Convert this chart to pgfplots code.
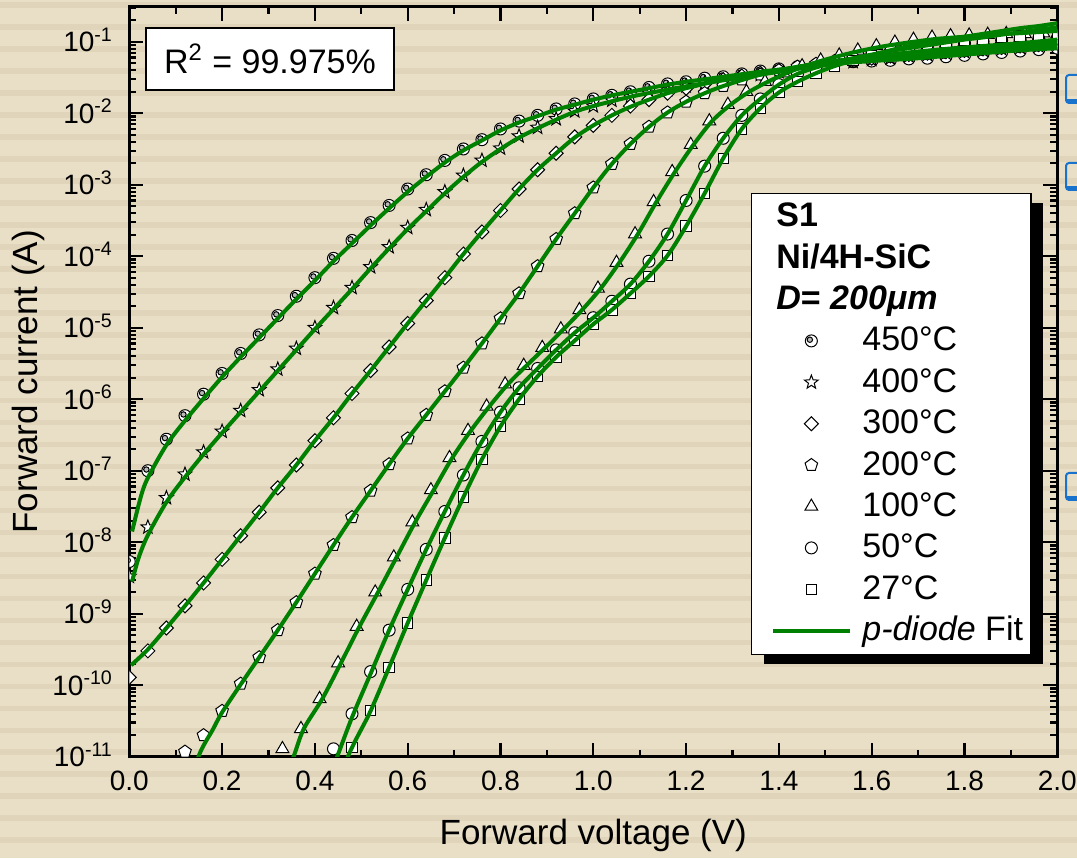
\documentclass[border=0pt]{standalone}
\usepackage{fontspec}
\setmainfont{Liberation Sans}
\usepackage{pgfplots}
\pgfplotsset{compat=1.18}
\usepackage{pgfplotstable}
\usetikzlibrary{plotmarks}
\definecolor{bgbase}{RGB}{233,223,199}
\definecolor{bgstripe}{RGB}{224,213,186}
\definecolor{fitgreen}{RGB}{0,128,0}
\definecolor{iconblue}{RGB}{25,115,205}

\pgfdeclareplotmark{dotcircle}{%
  \pgfpathcircle{\pgfpointorigin}{\pgfplotmarksize}\pgfusepathqfillstroke
  \begin{pgfscope}\pgfsetfillcolor{gray!55}%
  \pgfpathcircle{\pgfqpoint{-0.25\pgfplotmarksize}{0.2\pgfplotmarksize}}{0.45\pgfplotmarksize}\pgfusepathqfillstroke
  \end{pgfscope}}
\pgfdeclareplotmark{ostar}{%
  \pgfpathmoveto{\pgfpointpolar{90}{\pgfplotmarksize}}%
  \pgfpathlineto{\pgfpointpolar{126}{0.42*\pgfplotmarksize}}%
  \pgfpathlineto{\pgfpointpolar{162}{\pgfplotmarksize}}%
  \pgfpathlineto{\pgfpointpolar{198}{0.42*\pgfplotmarksize}}%
  \pgfpathlineto{\pgfpointpolar{234}{\pgfplotmarksize}}%
  \pgfpathlineto{\pgfpointpolar{270}{0.42*\pgfplotmarksize}}%
  \pgfpathlineto{\pgfpointpolar{306}{\pgfplotmarksize}}%
  \pgfpathlineto{\pgfpointpolar{342}{0.42*\pgfplotmarksize}}%
  \pgfpathlineto{\pgfpointpolar{18}{\pgfplotmarksize}}%
  \pgfpathlineto{\pgfpointpolar{54}{0.42*\pgfplotmarksize}}%
  \pgfpathclose\pgfusepathqfillstroke}
\pgfdeclareplotmark{odiamond}{%
  \pgfpathmoveto{\pgfqpoint{0pt}{\pgfplotmarksize}}%
  \pgfpathlineto{\pgfqpoint{\pgfplotmarksize}{0pt}}%
  \pgfpathlineto{\pgfqpoint{0pt}{-\pgfplotmarksize}}%
  \pgfpathlineto{\pgfqpoint{-\pgfplotmarksize}{0pt}}%
  \pgfpathclose\pgfusepathqfillstroke}

\pgfplotsset{
  markleg/.style={legend image code/.code={\path (0pt,0pt) (44.35pt,0pt); \draw[##1] plot coordinates {(24.85pt,0pt)};}},
  lineleg/.style={legend image code/.code={\path (0pt,0pt) (44.35pt,0pt); \draw[##1] (5.85pt,0pt) -- (44.35pt,0pt);}},
  mk/.style={only marks, markleg, mark options={solid, fill=white, draw=black, line width=0.5pt}},
  fit/.style={no markers, smooth, color=fitgreen, line width=2pt},
}

% ---- measured data: v (V), lg = log10(I/A) ----
\pgfplotstableread{
v lg
0.00 -8.27
0.04 -7.00
0.08 -6.56
0.12 -6.23
0.16 -5.93
0.20 -5.64
0.24 -5.36
0.28 -5.10
0.32 -4.83
0.36 -4.56
0.40 -4.30
0.44 -4.03
0.48 -3.78
0.52 -3.53
0.56 -3.29
0.60 -3.06
0.64 -2.86
0.68 -2.66
0.72 -2.50
0.76 -2.37
0.80 -2.22
0.84 -2.11
0.88 -2.03
0.92 -1.94
0.96 -1.87
1.00 -1.80
1.04 -1.75
1.08 -1.70
1.12 -1.64
1.16 -1.59
1.20 -1.56
1.24 -1.51
1.28 -1.49
1.32 -1.45
1.36 -1.41
1.40 -1.38
1.44 -1.35
1.48 -1.32
1.52 -1.30
1.56 -1.28
1.60 -1.27
1.64 -1.26
1.68 -1.24
1.72 -1.23
1.76 -1.21
1.80 -1.19
1.84 -1.17
1.88 -1.15
1.92 -1.13
1.96 -1.11
2.00 -1.09
}\dA
\pgfplotstableread{
v lg
0.00 -8.48
0.04 -7.79
0.08 -7.38
0.12 -7.05
0.16 -6.74
0.20 -6.45
0.24 -6.16
0.28 -5.87
0.32 -5.58
0.36 -5.29
0.40 -5.00
0.44 -4.72
0.48 -4.44
0.52 -4.15
0.56 -3.87
0.60 -3.60
0.64 -3.35
0.68 -3.10
0.72 -2.87
0.76 -2.66
0.80 -2.49
0.84 -2.32
0.88 -2.20
0.92 -2.08
0.96 -1.97
1.00 -1.90
1.04 -1.82
1.08 -1.77
1.12 -1.72
1.16 -1.67
1.20 -1.62
1.24 -1.58
1.28 -1.54
1.32 -1.50
1.36 -1.46
1.40 -1.42
1.44 -1.38
1.48 -1.34
1.52 -1.31
1.56 -1.28
1.60 -1.25
1.64 -1.23
1.68 -1.20
1.72 -1.18
1.76 -1.16
1.80 -1.14
1.84 -1.12
1.88 -1.10
1.92 -1.08
1.96 -1.06
2.00 -1.04
}\dB
\pgfplotstableread{
v lg
0.00 -9.89
0.04 -9.52
0.08 -9.20
0.12 -8.89
0.16 -8.57
0.20 -8.24
0.24 -7.91
0.28 -7.58
0.32 -7.24
0.36 -6.92
0.40 -6.58
0.44 -6.26
0.48 -5.92
0.52 -5.60
0.56 -5.27
0.60 -4.94
0.64 -4.62
0.68 -4.30
0.72 -3.97
0.76 -3.66
0.80 -3.36
0.84 -3.06
0.88 -2.79
0.92 -2.56
0.96 -2.33
1.00 -2.17
1.04 -2.03
1.08 -1.90
1.12 -1.81
1.16 -1.72
1.20 -1.65
1.24 -1.59
1.28 -1.53
1.32 -1.48
1.36 -1.44
1.40 -1.40
1.44 -1.36
1.48 -1.32
1.52 -1.29
1.56 -1.26
1.60 -1.23
1.64 -1.20
1.68 -1.18
1.72 -1.16
1.76 -1.14
1.80 -1.12
1.84 -1.10
1.88 -1.08
1.92 -1.06
1.96 -1.04
2.00 -1.02
}\dC
\pgfplotstableread{
v lg
0.08 -11.05
0.12 -10.93
0.16 -10.70
0.20 -10.36
0.24 -9.98
0.28 -9.61
0.32 -9.23
0.36 -8.84
0.40 -8.44
0.44 -8.04
0.48 -7.65
0.52 -7.28
0.56 -6.91
0.60 -6.55
0.64 -6.22
0.68 -5.89
0.72 -5.56
0.76 -5.22
0.80 -4.87
0.84 -4.52
0.88 -4.14
0.92 -3.76
0.96 -3.40
1.00 -3.04
1.04 -2.71
1.08 -2.43
1.12 -2.19
1.16 -1.99
1.20 -1.84
1.24 -1.72
1.28 -1.62
1.32 -1.53
1.36 -1.46
1.40 -1.40
1.44 -1.35
1.48 -1.31
1.52 -1.27
1.56 -1.24
1.60 -1.21
1.64 -1.18
1.68 -1.15
1.72 -1.13
1.76 -1.10
1.80 -1.08
1.84 -1.06
1.88 -1.04
1.92 -1.02
1.96 -0.99
2.00 -0.97
}\dD
\pgfplotstableread{
v lg
0.33 -10.89
0.37 -10.61
0.41 -10.19
0.45 -9.69
0.49 -9.18
0.53 -8.70
0.57 -8.21
0.61 -7.72
0.65 -7.27
0.69 -6.82
0.73 -6.44
0.77 -6.10
0.81 -5.79
0.85 -5.53
0.89 -5.28
0.93 -5.02
0.97 -4.75
1.01 -4.45
1.05 -4.09
1.09 -3.69
1.13 -3.24
1.17 -2.82
1.21 -2.44
1.25 -2.11
1.29 -1.88
1.33 -1.70
1.37 -1.56
1.41 -1.44
1.45 -1.34
1.49 -1.26
1.53 -1.19
1.57 -1.12
1.61 -1.06
1.65 -1.01
1.69 -0.97
1.73 -0.94
1.77 -0.92
1.81 -0.91
1.85 -0.90
1.89 -0.89
1.93 -0.89
1.97 -0.88
}\dE
\pgfplotstableread{
v lg
0.44 -10.89
0.48 -10.40
0.52 -9.81
0.56 -9.23
0.60 -8.66
0.64 -8.10
0.68 -7.57
0.72 -7.06
0.76 -6.59
0.80 -6.18
0.84 -5.84
0.88 -5.57
0.92 -5.31
0.96 -5.07
1.00 -4.86
1.04 -4.63
1.08 -4.39
1.12 -4.07
1.16 -3.69
1.20 -3.22
1.24 -2.74
1.28 -2.35
1.32 -2.03
1.36 -1.80
1.40 -1.60
1.44 -1.45
1.48 -1.36
1.52 -1.29
1.56 -1.23
1.60 -1.18
1.64 -1.14
1.68 -1.10
1.72 -1.07
1.76 -1.04
1.80 -1.02
1.84 -1.00
1.88 -0.98
1.92 -0.97
1.96 -0.96
2.00 -0.95
}\dF
\pgfplotstableread{
v lg
0.48 -10.87
0.52 -10.35
0.56 -9.75
0.60 -9.13
0.64 -8.53
0.68 -7.94
0.72 -7.37
0.76 -6.84
0.80 -6.38
0.84 -6.00
0.88 -5.68
0.92 -5.41
0.96 -5.18
1.00 -4.95
1.04 -4.75
1.08 -4.52
1.12 -4.28
1.16 -3.99
1.20 -3.58
1.24 -3.12
1.28 -2.63
1.32 -2.22
1.36 -1.93
1.40 -1.71
1.44 -1.56
1.48 -1.44
1.52 -1.34
1.56 -1.26
1.60 -1.19
1.64 -1.13
1.68 -1.08
1.72 -1.04
1.76 -1.01
1.80 -0.98
1.84 -0.96
1.88 -0.94
1.92 -0.92
1.96 -0.91
2.00 -0.90
}\dG

% ---- p-diode fit curves ----
\pgfplotstableread{
v lg
0.006 -7.85
0.025 -7.36
0.04 -7.10
0.08 -6.64
0.12 -6.30
0.16 -5.99
0.20 -5.69
0.24 -5.41
0.28 -5.14
0.32 -4.87
0.36 -4.60
0.40 -4.34
0.44 -4.07
0.48 -3.82
0.52 -3.57
0.56 -3.33
0.60 -3.10
0.64 -2.89
0.68 -2.69
0.72 -2.52
0.76 -2.38
0.80 -2.24
0.84 -2.13
0.88 -2.04
0.92 -1.95
0.96 -1.88
1.00 -1.81
1.04 -1.75
1.08 -1.70
1.12 -1.65
1.16 -1.60
1.20 -1.56
1.28 -1.49
1.36 -1.42
1.44 -1.36
1.52 -1.31
1.60 -1.27
1.68 -1.24
1.76 -1.20
1.84 -1.16
1.92 -1.12
2.00 -1.09
}\fA
\pgfplotstableread{
v lg
0.006 -8.55
0.02 -8.22
0.04 -7.90
0.08 -7.44
0.12 -7.09
0.16 -6.77
0.20 -6.47
0.24 -6.18
0.28 -5.89
0.32 -5.60
0.36 -5.31
0.40 -5.02
0.44 -4.74
0.48 -4.46
0.52 -4.17
0.56 -3.89
0.60 -3.62
0.64 -3.37
0.68 -3.12
0.72 -2.89
0.76 -2.68
0.80 -2.50
0.84 -2.34
0.88 -2.21
0.92 -2.09
0.96 -1.98
1.00 -1.90
1.08 -1.77
1.16 -1.67
1.24 -1.58
1.32 -1.50
1.40 -1.42
1.48 -1.34
1.56 -1.28
1.64 -1.23
1.72 -1.18
1.80 -1.14
1.88 -1.10
1.96 -1.06
2.00 -1.04
}\fB
\pgfplotstableread{
v lg
0.004 -9.72
0.04 -9.50
0.08 -9.20
0.12 -8.89
0.16 -8.57
0.20 -8.24
0.24 -7.91
0.28 -7.58
0.32 -7.24
0.36 -6.92
0.40 -6.58
0.44 -6.26
0.48 -5.92
0.52 -5.60
0.56 -5.27
0.60 -4.94
0.64 -4.62
0.68 -4.30
0.72 -3.97
0.76 -3.66
0.80 -3.36
0.84 -3.06
0.88 -2.79
0.92 -2.56
0.96 -2.34
1.00 -2.17
1.04 -2.03
1.08 -1.91
1.12 -1.81
1.16 -1.72
1.20 -1.65
1.28 -1.53
1.36 -1.44
1.44 -1.36
1.52 -1.29
1.60 -1.23
1.68 -1.18
1.76 -1.14
1.84 -1.10
1.92 -1.06
2.00 -1.02
}\fC
\pgfplotstableread{
v lg
0.12 -11.70
0.149 -11.00
0.18 -10.62
0.20 -10.38
0.24 -9.99
0.28 -9.61
0.32 -9.23
0.36 -8.84
0.40 -8.44
0.44 -8.04
0.48 -7.65
0.52 -7.28
0.56 -6.91
0.60 -6.55
0.64 -6.22
0.68 -5.89
0.72 -5.56
0.76 -5.22
0.80 -4.87
0.84 -4.52
0.88 -4.14
0.92 -3.76
0.96 -3.40
1.00 -3.04
1.04 -2.71
1.08 -2.43
1.12 -2.19
1.16 -1.99
1.20 -1.84
1.24 -1.72
1.28 -1.62
1.36 -1.46
1.44 -1.35
1.52 -1.27
1.60 -1.21
1.68 -1.15
1.76 -1.10
1.84 -1.06
1.92 -1.02
2.00 -0.97
}\fD
\pgfplotstableread{
v lg
0.335 -11.30
0.354 -11.00
0.376 -10.61
0.416 -10.19
0.456 -9.69
0.496 -9.18
0.536 -8.70
0.576 -8.21
0.616 -7.72
0.656 -7.27
0.696 -6.82
0.736 -6.44
0.776 -6.10
0.816 -5.79
0.856 -5.53
0.896 -5.28
0.936 -5.02
0.976 -4.75
1.016 -4.45
1.056 -4.09
1.096 -3.69
1.136 -3.24
1.176 -2.82
1.216 -2.44
1.256 -2.11
1.296 -1.88
1.336 -1.70
1.376 -1.56
1.416 -1.44
1.456 -1.34
1.50 -1.25
1.56 -1.15
1.62 -1.07
1.68 -1.01
1.74 -0.96
1.80 -0.93
1.86 -0.90
1.92 -0.88
2.00 -0.85
}\fE
\pgfplotstableread{
v lg
0.43 -11.30
0.448 -11.00
0.48 -10.45
0.52 -9.84
0.56 -9.23
0.60 -8.66
0.64 -8.10
0.68 -7.57
0.72 -7.06
0.76 -6.59
0.80 -6.18
0.84 -5.84
0.88 -5.57
0.92 -5.31
0.96 -5.07
1.00 -4.86
1.04 -4.63
1.08 -4.39
1.12 -4.07
1.16 -3.69
1.20 -3.22
1.24 -2.74
1.28 -2.35
1.32 -2.03
1.36 -1.80
1.40 -1.60
1.44 -1.45
1.48 -1.36
1.52 -1.29
1.56 -1.23
1.60 -1.18
1.64 -1.13
1.68 -1.09
1.72 -1.05
1.76 -1.01
1.80 -0.97
1.84 -0.94
1.88 -0.90
1.92 -0.87
1.96 -0.83
2.00 -0.80
}\fF
\pgfplotstableread{
v lg
0.455 -11.30
0.471 -11.00
0.49 -10.74
0.52 -10.36
0.56 -9.75
0.60 -9.13
0.64 -8.53
0.68 -7.94
0.72 -7.37
0.76 -6.84
0.80 -6.38
0.84 -6.00
0.88 -5.68
0.92 -5.41
0.96 -5.18
1.00 -4.95
1.04 -4.75
1.08 -4.52
1.12 -4.28
1.16 -3.99
1.20 -3.58
1.24 -3.12
1.28 -2.63
1.32 -2.22
1.36 -1.93
1.40 -1.71
1.44 -1.56
1.48 -1.44
1.52 -1.34
1.56 -1.26
1.60 -1.19
1.64 -1.12
1.68 -1.06
1.72 -1.01
1.76 -0.97
1.80 -0.93
1.84 -0.89
1.88 -0.85
1.92 -0.81
1.96 -0.78
2.00 -0.74
}\fG

\begin{document}
\begin{tikzpicture}
% background with horizontal stripes
\fill[bgbase] (0pt,0pt) rectangle (538.5pt,429pt);
\foreach \k in {0,...,39} {
  \fill[bgstripe] (0pt,{429pt-1.25pt-10.985pt*\k}) rectangle (538.5pt,{429pt-4pt-10.985pt*\k});
}
% solid black drop shadow of the legend box
\fill[black] (382pt,97pt) rectangle (521.3pt,327.6pt);
\begin{axis}[
  at={(64.65pt,50.65pt)}, anchor=south west,
  width=464pt, height=375pt, scale only axis,
  xmin=0, xmax=2,
  ymode=log, ymin=1e-11, ymax=0.309,
  axis line style={line width=1.5pt, black},
  tick align=inside,
  major tick length=7pt, minor tick length=3.5pt,
  every tick/.style={black, line width=1.1pt},
  xtick={0,0.2,0.4,0.6,0.8,1.0,1.2,1.4,1.6,1.8,2.0},
  xticklabels={0.0,0.2,0.4,0.6,0.8,1.0,1.2,1.4,1.6,1.8,2.0},
  minor xtick={0.1,0.3,0.5,0.7,0.9,1.1,1.3,1.5,1.7,1.9},
  ytick={1e-11,1e-10,1e-9,1e-8,1e-7,1e-6,1e-5,1e-4,1e-3,1e-2,1e-1},
  yticklabels={10\textsuperscript{-11},10\textsuperscript{-10},10\textsuperscript{-9},10\textsuperscript{-8},10\textsuperscript{-7},10\textsuperscript{-6},10\textsuperscript{-5},10\textsuperscript{-4},10\textsuperscript{-3},10\textsuperscript{-2},10\textsuperscript{-1}},
  minor ytick={2e-11,3e-11,4e-11,5e-11,6e-11,7e-11,8e-11,9e-11,
    2e-10,3e-10,4e-10,5e-10,6e-10,7e-10,8e-10,9e-10,
    2e-9,3e-9,4e-9,5e-9,6e-9,7e-9,8e-9,9e-9,
    2e-8,3e-8,4e-8,5e-8,6e-8,7e-8,8e-8,9e-8,
    2e-7,3e-7,4e-7,5e-7,6e-7,7e-7,8e-7,9e-7,
    2e-6,3e-6,4e-6,5e-6,6e-6,7e-6,8e-6,9e-6,
    2e-5,3e-5,4e-5,5e-5,6e-5,7e-5,8e-5,9e-5,
    2e-4,3e-4,4e-4,5e-4,6e-4,7e-4,8e-4,9e-4,
    2e-3,3e-3,4e-3,5e-3,6e-3,7e-3,8e-3,9e-3,
    2e-2,3e-2,4e-2,5e-2,6e-2,7e-2,8e-2,9e-2,
    2e-1,3e-1},
  xticklabel style={font=\fontsize{14}{16}\selectfont, inner sep=0pt, anchor=north, yshift=-7pt},
  yticklabel style={font=\fontsize{14}{16}\selectfont, inner sep=0pt, anchor=base east, xshift=-8pt, yshift=-5pt},
  xlabel={Forward voltage (V)},
  ylabel={Forward current (A)},
  xlabel style={at={(axis description cs:0.5,-0.1044)}, anchor=center, font=\fontsize{17.5}{20}\selectfont},
  ylabel style={at={(axis description cs:-0.109,0.5)}, anchor=center, font=\fontsize{17.5}{20}\selectfont},
  clip marker paths=true,
  legend cell align=left,
  legend style={at={(axis description cs:0.6700,0.752)}, anchor=north west,
    draw=black, line width=0.6pt, fill=white,
    font=\fontsize{17}{20}\selectfont,
    inner xsep=4pt, inner ysep=4.5pt, row sep=6.3pt,
    nodes={inner sep=0pt, text height=12.2pt, text depth=2.2pt},
    /tikz/every odd column/.append style={column sep=5pt}},
]
\addlegendimage{empty legend}\addlegendentry{\makebox[0pt][l]{\hspace*{-43.5pt}\textbf{S1}}}
\addlegendimage{empty legend}\addlegendentry{\makebox[0pt][l]{\hspace*{-43.5pt}\textbf{Ni/4H-SiC}}}
\addlegendimage{empty legend}\addlegendentry{\makebox[0pt][l]{\hspace*{-43.5pt}\textbf{\textit{D}= \textit{200μm}}}}

\addplot[mk, mark=dotcircle, mark size=3pt] table[x=v, y expr={10^(\thisrow{lg})}] {\dA};
\addlegendentry{450°C}
\addplot[mk, mark=ostar, mark size=3.6pt] table[x=v, y expr={10^(\thisrow{lg})}] {\dB};
\addlegendentry{400°C}
\addplot[mk, mark=odiamond, mark size=3.5pt] table[x=v, y expr={10^(\thisrow{lg})}] {\dC};
\addlegendentry{300°C}
\addplot[mk, mark=pentagon*, mark size=3.3pt] table[x=v, y expr={10^(\thisrow{lg})}] {\dD};
\addlegendentry{200°C}
\addplot[mk, mark=triangle*, mark size=3.7pt] table[x=v, y expr={10^(\thisrow{lg})}] {\dE};
\addlegendentry{100°C}
\addplot[mk, mark=*, mark size=3pt] table[x=v, y expr={10^(\thisrow{lg})}] {\dF};
\addlegendentry{50°C}
\addplot[mk, mark=square*, mark size=2.6pt] table[x=v, y expr={10^(\thisrow{lg})}] {\dG};
\addlegendentry{27°C}

\addplot[fit, forget plot] table[x=v, y expr={10^(\thisrow{lg})}] {\fA};
\addplot[fit, forget plot] table[x=v, y expr={10^(\thisrow{lg})}] {\fB};
\addplot[fit, forget plot] table[x=v, y expr={10^(\thisrow{lg})}] {\fC};
\addplot[fit, forget plot] table[x=v, y expr={10^(\thisrow{lg})}] {\fD};
\addplot[fit, forget plot] table[x=v, y expr={10^(\thisrow{lg})}] {\fE};
\addplot[fit, forget plot] table[x=v, y expr={10^(\thisrow{lg})}] {\fF};
\addplot[fit, lineleg] table[x=v, y expr={10^(\thisrow{lg})}] {\fG};
\addlegendentry{\textit{p-diode} Fit}
\end{axis}

% R^2 annotation box
\node[draw=black, line width=0.6pt, fill=white, minimum width=124pt, minimum height=31pt, inner sep=0pt,
  font=\fontsize{17}{20}\selectfont] at (135pt,399.5pt) {R\textsuperscript{2} = 99.975\%};

% partially visible blue icons at the right edge
\foreach \yt/\yb in {391.5/377.5, 347.5/334, 192.5/179} {
  \draw[iconblue, line width=1pt, rounded corners=1.5pt] (545pt,\yt pt) -- (533pt,\yt pt) -- (533pt,\yb pt) -- (545pt,\yb pt);
  \fill[iconblue] (533pt,\yb pt) rectangle (545pt,{\yb pt+2pt});
}

\pgfresetboundingbox
\useasboundingbox (0pt,0pt) rectangle (538.5pt,429pt);
\end{tikzpicture}
\end{document}
